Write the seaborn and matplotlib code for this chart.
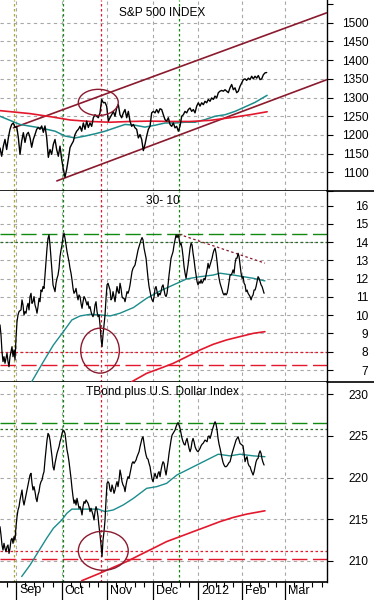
import numpy as np
import pandas as pd
import matplotlib
matplotlib.use("Agg")
import matplotlib.pyplot as plt
import matplotlib.transforms as mtransforms
from matplotlib.patches import Ellipse
from matplotlib.lines import Line2D
import seaborn as sns

sns.set_theme(style="white")
plt.rcParams['font.family'] = ['Liberation Sans', 'DejaVu Sans']

# ---------------- data (x = trading days since 1 Sep 2011) ----------------
month_labels = ["Sep", "Oct", "Nov", "Dec", "2012", "Feb", "Mar"]
month_days = [0, 21, 42, 63, 84, 104, 124]
x_lim = (-7.4, 143.3)

# S&P 500 daily closes (Aug 2011 - Feb 2012)
sp_first_day, sp_last_day = -7.4, 115.5
sp500 = [1165, 1143, 1170, 1188, 1161, 1192, 1215, 1228, 1232, 1220, 1223, 1193, 1148, 1183,
         1206, 1180, 1201, 1207, 1193, 1167, 1188, 1201, 1215, 1220, 1215, 1224, 1207, 1224,
         1193, 1140, 1161, 1148, 1175, 1188, 1161, 1143, 1170, 1135, 1108, 1087, 1108, 1135,
         1166, 1175, 1183, 1201, 1210, 1215, 1223, 1210, 1232, 1215, 1237, 1220, 1232, 1223,
         1246, 1254, 1250, 1246, 1259, 1295, 1286, 1287, 1277, 1237, 1246, 1254, 1263, 1250,
         1272, 1281, 1254, 1246, 1259, 1268, 1246, 1263,
         1237, 1223, 1228, 1219, 1215, 1192, 1201, 1188, 1158, 1175, 1197, 1215, 1223, 1259,
         1263, 1259, 1268, 1259, 1270, 1268, 1254, 1241, 1237, 1246, 1228, 1223, 1232, 1219,
         1223, 1210, 1223, 1250, 1254, 1263, 1259, 1268, 1272, 1263, 1268, 1259, 1277, 1286,
         1277, 1286, 1281, 1290, 1286, 1295, 1290, 1299, 1295, 1304, 1299, 1313, 1317, 1319,
         1317, 1321, 1317, 1313, 1326, 1335, 1321, 1326, 1313, 1317, 1330, 1339, 1348, 1350,
         1346, 1352, 1348, 1357, 1350, 1357, 1352, 1359, 1348, 1350, 1361, 1366, 1367]
sp_ma_short_x = [-7.4, 1.8, 11.1, 18.0, 22.6, 27.2, 31.8, 36.4, 41.0, 45.6, 50.2, 54.8, 59.4,
                 64.1, 68.7, 73.3, 77.9, 82.5, 87.1, 91.7, 96.3, 100.9, 105.5, 110.1, 115.7]
sp_ma_short = [1250, 1228, 1219, 1210, 1197, 1192, 1197, 1203, 1210, 1219, 1228, 1226, 1221,
               1226, 1232, 1232, 1234, 1234, 1241, 1250, 1254, 1263, 1275, 1287, 1306]
sp_ma_long_x = [-7.4, 6.5, 15.7, 24.9, 34.1, 43.3, 52.5, 61.8, 71.0, 80.2, 89.4, 98.6, 107.8, 115.7]
sp_ma_long = [1265, 1257, 1249, 1240, 1236, 1234, 1236, 1237, 1236, 1236, 1239, 1246, 1254, 1262]
sp_channel_upper_x, sp_channel_upper = [-1.2, 143.3], [1219, 1527]
sp_channel_lower_x, sp_channel_lower = [18.8, 143.3], [1077, 1348]

# 30-10 spread
spread_first_day, spread_last_day = -7.4, 114.3
spread = [9.47, 8.92, 8.00, 7.46, 7.73, 7.37, 7.64, 7.92, 7.46, 7.18, 7.73, 8.00, 8.28, 7.73,
          8.10, 7.55, 8.74, 9.65, 10.01, 10.20, 10.25, 10.29, 10.84, 10.56, 10.01, 10.20, 10.11,
          10.47, 10.65, 10.29, 11.02, 11.20, 10.65, 10.74, 11.02, 10.56, 10.38, 10.11, 10.47,
          10.93, 10.74, 11.38, 11.29, 11.57, 11.47, 12.20, 12.93, 13.67, 14.21, 14.40, 13.85,
          13.12, 12.39, 11.66, 11.47, 11.29, 11.75, 12.02, 12.20, 12.57, 13.21, 13.57, 13.85,
          14.30, 14.49, 14.21, 13.85, 13.48, 13.21, 12.93, 12.57, 12.30, 11.93, 11.47, 11.20,
          11.29, 11.47, 11.11, 10.84, 11.11, 11.02, 10.65, 10.38, 10.74, 11.02, 10.93, 10.74,
          10.56, 10.74, 10.38, 10.47, 10.20, 10.01, 9.92, 10.11, 10.56, 10.74, 10.20, 9.92,
          10.01, 9.47, 8.74, 8.28, 8.92, 9.47, 10.01, 10.93, 11.66, 11.75, 11.57, 11.38, 10.84,
          10.93, 11.29, 11.02, 10.74, 11.20, 11.57, 11.29, 11.20, 11.75, 11.47, 11.02, 10.93,
          10.93, 10.74, 11.02, 11.29, 11.20, 11.38, 11.66, 12.02, 12.39, 12.57, 12.66,
          12.75, 13.03, 13.30, 13.57, 13.76, 13.94, 14.12, 14.25, 14.12, 13.67, 13.39, 13.12,
          12.57, 12.02, 11.57, 11.29, 11.02, 10.84, 10.74, 11.02, 11.47, 11.57, 11.29, 11.02,
          11.20, 11.11, 11.29, 11.57, 11.66, 11.38, 11.11, 11.02, 11.20, 11.66, 12.20, 12.66,
          13.12, 13.30, 13.48, 13.85, 14.12, 14.40, 14.25, 14.40, 14.21, 13.85, 13.94, 13.67,
          13.21, 12.66, 12.30, 12.02, 12.39, 12.75, 13.21, 13.67, 13.94, 13.85, 13.39, 13.03,
          12.57, 12.20, 11.84, 11.66, 11.84, 11.75, 11.93, 11.75, 11.84, 12.02, 11.93, 12.20,
          12.48, 12.84, 12.57, 12.75, 12.93, 13.12, 13.39, 13.57, 13.67, 13.39, 12.93, 12.39,
          12.02, 11.75, 11.57, 11.38, 11.20, 11.11, 11.20, 11.11, 11.20, 11.47, 11.84, 12.20,
          12.20, 12.30, 12.48, 12.30, 12.84, 13.12, 13.12, 13.39, 13.21, 12.75, 12.30, 12.02,
          12.11, 11.75, 11.66, 11.29, 11.38, 11.20, 11.11, 11.02, 10.84, 11.02, 11.11, 11.38,
          11.38, 11.57, 11.84, 12.11, 12.02, 11.84, 11.66, 11.57, 11.38, 11.20]
spread_ma_short_x = [7.2, 12.6, 17.2, 21.8, 25.7, 29.5, 34.1, 38.7, 43.3, 47.9, 54.1, 60.2,
                     66.4, 72.5, 78.7, 84.8, 90.9, 94.0, 100.1, 104.7, 109.4, 114.7]
spread_ma_short = [6.36, 7.46, 8.37, 9.10, 9.74, 9.96, 10.05, 10.02, 9.96, 10.11, 10.42, 10.93,
                   11.33, 11.66, 11.99, 12.11, 12.20, 12.30, 12.20, 12.11, 12.02, 11.88]
spread_ma_long_x = [53.3, 60.2, 66.4, 72.5, 78.7, 84.8, 90.9, 97.1, 103.2, 109.4, 114.7]
spread_ma_long = [6.36, 6.82, 7.09, 7.37, 7.73, 8.10, 8.41, 8.65, 8.83, 9.01, 9.10]
spread_trend_x, spread_trend = [75.1, 114.7], [14.43, 12.85]
spread_levels = {"high": 14.43, "high2": 14.03, "low2": 8.0, "low": 7.26}

# TBond plus U.S. Dollar Index
tbd_first_day, tbd_last_day = -7.4, 114.3
tbd = [214.09, 213.09, 211.89, 211.28, 212.09, 211.49, 211.09, 211.69, 211.89, 210.88, 211.49,
       212.49, 212.69, 212.09, 212.89, 212.49, 214.09, 215.29, 216.09, 216.49, 217.29, 217.9,
       218.5, 217.29, 216.69, 217.29, 217.9, 218.5, 219.1, 219.7, 220.3, 220.5, 219.3, 218.5,
       218.9, 218.3, 217.5, 217.1, 217.9, 218.3, 219.1, 219.5, 219.7, 220.3, 220.7, 222.1,
       223.3, 224.5, 225.3, 225.1, 224.5, 223.5, 222.5, 221.3, 220.9, 221.7, 222.3, 222.9,
       223.3, 223.7, 224.3, 224.7, 225.3, 225.7, 225.6, 225.3, 224.3, 223.3, 222.7, 221.9,
       220.9, 219.9, 218.7, 217.7, 216.9, 217.3, 216.7, 217.5, 216.9, 216.3, 216.5, 216.1,
       215.5, 216.5, 217.1, 216.9, 217.3, 217.1, 216.9, 216.5, 215.9, 216.3, 215.9, 215.5,
       214.9, 215.9, 216.5, 216.1, 215.3, 214.1, 213.1, 211.9, 210.5, 212.5, 213.5, 214.9,
       217.3, 219.3, 219.5, 219.3, 218.5, 218.3, 219.1, 218.7, 218.1, 218.5, 219.1, 219.5,
       218.9, 219.7, 220.9, 220.3, 219.5, 219.1, 218.9, 218.3, 219.1, 219.7, 220.1, 219.9,
       220.5, 221.1, 221.7, 221.9, 221.7,
       221.9, 222.1, 222.5, 222.8, 223.1, 223.7, 224.2, 224.7, 224.9, 224.1, 223.3, 222.7,
       222.3, 222.2, 221.7, 221.3, 220.5, 219.8, 219.5, 220.1, 220.5, 220.1, 219.9, 220.5,
       220.7, 220.1, 220.9, 221.5, 221.9, 221.7, 220.9, 220.3, 221.1, 221.9, 222.9, 223.7,
       224.5, 225.1, 225.3, 225.5, 225.7, 226.1, 226.4, 226.6, 226.3, 225.9, 225.3, 224.7,
       224.3, 224.0, 223.9, 224.4, 224.7, 224.1, 223.5, 223.1, 223.5, 224.3, 224.7, 224.3,
       223.7, 223.4, 223.2, 223.1, 223.3, 223.5, 223.8, 224.0, 224.1, 224.3, 224.5, 224.4,
       224.3, 224.9, 225.0, 224.7, 225.1, 225.6, 226.0, 226.4, 226.7, 226.4, 225.7, 224.7,
       224.0, 223.5, 222.9, 222.3, 221.8, 221.5, 221.3, 221.3, 221.4, 221.6, 221.8, 221.9,
       222.4, 222.9, 223.3, 223.7, 224.1, 224.5, 224.7, 224.9, 224.5, 224.1, 224.0, 223.9,
       223.8, 222.9, 221.9, 222.3, 222.5, 221.7, 221.4, 221.3, 220.9, 220.6, 220.3, 220.7,
       221.3, 221.9, 222.2, 222.3, 222.9, 223.2, 222.9, 222.2, 221.8, 221.5]
tbd_ma_short_x = [2.6, 6.5, 10.3, 14.1, 17.2, 21.1, 23.4, 25.7, 29.5, 34.1, 37.9, 41.0, 44.8,
                  49.4, 54.1, 60.2, 64.8, 69.4, 74.1, 78.7, 84.8, 90.9, 93.2, 98.6, 103.2,
                  109.4, 114.7]
tbd_ma_short = [208.1, 209.5, 211.1, 212.7, 213.9, 214.9, 215.7, 216.2, 216.2, 216.2, 216.2,
                215.9, 216.1, 216.7, 217.5, 218.7, 218.9, 219.3, 220.3, 220.9, 221.7, 222.5,
                222.8, 222.6, 222.8, 222.6, 222.5]
tbd_ma_long_x = [30.3, 38.7, 44.8, 51.0, 57.1, 63.3, 69.4, 75.6, 81.7, 87.9, 94.0, 100.1, 106.3, 114.7]
tbd_ma_long = [207.6, 208.5, 209.2, 209.9, 210.7, 211.5, 212.3, 212.9, 213.5, 214.1, 214.7,
               215.2, 215.6, 216.0]
tbd_levels = {"high": 226.6, "high2": 225.8, "low2": 211.2, "low": 210.2}

# marker lines / circles
vline_olive = -0.9
vline_green = [21.7, 75.1]
vline_red = 39.2
circle_sp = (37.9, 1287, 18.4, 70)
circle_spread = (38.7, 8.06, 17.8, 2.46)
circle_tbd = (40.2, 211.2, 23.0, 4.7)

# ---------------- styling ----------------
BLACK = "#000000"
TEAL = "#1c8c8c"
RED = "#e3182d"
MAROON = "#8a1a2e"
GREEN = "#128a12"
DGREEN = "#2a6a2a"
GRID = "#a8a8a8"
OLIVE = "#a9a93a"

fig = plt.figure(figsize=(3.74, 6.0), dpi=100)
W = 327 / 374
ax1 = fig.add_axes([0, (600 - 191) / 600, W, 191 / 600])
ax2 = fig.add_axes([0, (600 - 382) / 600, W, 191 / 600])
ax3 = fig.add_axes([0, (600 - 582) / 600, W, 200 / 600])
axes = [ax1, ax2, ax3]

FS = 8.6

def base(ax, ylim, gridvals, ticks, labels):
    ax.set_xlim(*x_lim)
    ax.set_ylim(*ylim)
    ax.set_facecolor("white")
    for v in gridvals:
        ax.axhline(v, color=GRID, lw=0.8, dashes=(3, 3), zorder=0)
    for d in month_days:
        ax.axvline(d, color=GRID, lw=0.8, dashes=(3, 3), zorder=0)
    ax.axvline(vline_olive, color=OLIVE, lw=0.9, dashes=(2, 2), zorder=1)
    for d in vline_green:
        ax.axvline(d, color=GREEN, lw=0.9, dashes=(2, 2), zorder=1)
    ax.axvline(vline_red, color=RED, lw=0.9, dashes=(2, 2), zorder=1)
    ax.yaxis.tick_right()
    ax.set_yticks(ticks, labels=labels, ha="right", fontsize=FS)
    ax.tick_params(axis="y", direction="out", length=4.3, width=0.8, pad=25.5,
                   colors=BLACK, right=True, left=False)
    ax.tick_params(axis="x", bottom=False, top=False, labelbottom=False)
    for s in ["left", "top"]:
        ax.spines[s].set_visible(False)
    ax.spines["right"].set_color(BLACK)
    ax.spines["right"].set_linewidth(1.0)
    ax.spines["bottom"].set_color(BLACK)
    ax.spines["bottom"].set_linewidth(1.2)
    ax.set_xlabel("")
    ax.set_ylabel("")

# ---- Panel 1: S&P 500 ----
sp_df = pd.DataFrame({"day": np.linspace(sp_first_day, sp_last_day, len(sp500)), "val": sp500})
base(ax1, (1052, 1561), list(range(1100, 1501, 50)), list(range(1050, 1551, 50)),
     [""] + [str(v) for v in range(1100, 1501, 50)] + [""])
sns.lineplot(data=sp_df, x="day", y="val", ax=ax1, color=BLACK, lw=1.0, estimator=None,
             sort=False, zorder=5)
sns.lineplot(x=sp_ma_short_x, y=sp_ma_short, ax=ax1, color=TEAL, lw=1.1, estimator=None, zorder=4)
sns.lineplot(x=sp_ma_long_x, y=sp_ma_long, ax=ax1, color=RED, lw=1.2, estimator=None, zorder=4)
ax1.plot(sp_channel_upper_x, sp_channel_upper, color=MAROON, lw=1.2, zorder=3)
ax1.plot(sp_channel_lower_x, sp_channel_lower, color=MAROON, lw=1.2, zorder=3)
cx, cy, w, h = circle_sp
ax1.add_patch(Ellipse((cx, cy), w, h, fill=False, edgecolor=MAROON, lw=1.0, zorder=6))
ax1.text(0.497, 0.93, "S&P 500 INDEX", transform=ax1.transAxes, ha="center", va="center",
         fontsize=FS, color=BLACK)
ax1.set_xlabel(""); ax1.set_ylabel("")

# ---- Panel 2: 30-10 ----
sd_df = pd.DataFrame({"day": np.linspace(spread_first_day, spread_last_day, len(spread)), "val": spread})
base(ax2, (6.345, 16.80), list(range(7, 17)), list(range(7, 17)), [str(v) for v in range(7, 17)])
ax2.axhline(spread_levels["high"], color=GREEN, lw=1.0, dashes=(11, 4), zorder=2)
ax2.axhline(spread_levels["high2"], color=DGREEN, lw=0.9, dashes=(2, 2), zorder=2)
ax2.axhline(spread_levels["low2"], color=RED, lw=0.9, dashes=(2, 2), zorder=2)
ax2.axhline(spread_levels["low"], color=RED, lw=1.0, dashes=(11, 4), zorder=2)
sns.lineplot(data=sd_df, x="day", y="val", ax=ax2, color=BLACK, lw=0.9, estimator=None,
             sort=False, zorder=5)
sns.lineplot(x=spread_ma_short_x, y=spread_ma_short, ax=ax2, color=TEAL, lw=1.0, estimator=None, zorder=4)
sns.lineplot(x=spread_ma_long_x, y=spread_ma_long, ax=ax2, color=RED, lw=1.2, estimator=None, zorder=4)
ax2.plot(spread_trend_x, spread_trend, color=MAROON, lw=0.9, dashes=(2, 2), zorder=3)
cx, cy, w, h = circle_spread
ax2.add_patch(Ellipse((cx, cy), w, h, fill=False, edgecolor=MAROON, lw=1.0, zorder=6))
ax2.text(0.497, 0.948, "30- 10", transform=ax2.transAxes, ha="center", va="center",
         fontsize=FS, color=BLACK)
ax2.set_xlabel(""); ax2.set_ylabel("")

# ---- Panel 3: TBond plus USD ----
tb_df = pd.DataFrame({"day": np.linspace(tbd_first_day, tbd_last_day, len(tbd)), "val": tbd})
base(ax3, (207.44, 231.48), list(range(210, 231, 5)), list(range(210, 231, 5)),
     [str(v) for v in range(210, 231, 5)])
ax3.axhline(tbd_levels["high"], color=GREEN, lw=1.0, dashes=(11, 4), zorder=2)
ax3.axhline(tbd_levels["high2"], color=DGREEN, lw=0.9, dashes=(2, 2), zorder=2)
ax3.axhline(tbd_levels["low2"], color=RED, lw=0.9, dashes=(2, 2), zorder=2)
ax3.axhline(tbd_levels["low"], color=RED, lw=1.0, dashes=(11, 4), zorder=2)
sns.lineplot(data=tb_df, x="day", y="val", ax=ax3, color=BLACK, lw=0.9, estimator=None,
             sort=False, zorder=5)
sns.lineplot(x=tbd_ma_short_x, y=tbd_ma_short, ax=ax3, color=TEAL, lw=1.0, estimator=None, zorder=4)
sns.lineplot(x=tbd_ma_long_x, y=tbd_ma_long, ax=ax3, color=RED, lw=1.2, estimator=None, zorder=4)
cx, cy, w, h = circle_tbd
ax3.add_patch(Ellipse((cx, cy), w, h, fill=False, edgecolor=MAROON, lw=1.0, zorder=6))
ax3.text(0.497, 0.95, "TBond plus U.S. Dollar Index", transform=ax3.transAxes, ha="center",
         va="center", fontsize=FS, color=BLACK)
ax3.set_xlabel(""); ax3.set_ylabel("")

# x axis on the bottom panel
ax3.tick_params(axis="x", bottom=True, labelbottom=False, which="both", direction="out")
ax3.set_xticks(month_days)
ax3.tick_params(axis="x", which="major", length=13, width=0.9, color=BLACK)
minor = []
edges = [-21] + month_days + [145]
for a, b in zip(edges[:-1], edges[1:]):
    for t in np.linspace(a, b, 6)[1:-1]:
        if x_lim[0] < t < x_lim[1]:
            minor.append(t)
ax3.set_xticks(minor, minor=True)
ax3.tick_params(axis="x", which="minor", length=3.6, width=0.8, color=BLACK)
lab_tr = mtransforms.offset_copy(ax3.get_xaxis_transform(), fig=fig, x=3, y=-2.5, units="dots")
for d, lab in zip(month_days, month_labels):
    ax3.text(d, 0, lab, transform=lab_tr, ha="left", va="top", fontsize=FS + 0.4, color=BLACK)

# separators extend to the right edge
for yf in [(600 - 191) / 600, (600 - 382) / 600]:
    fig.add_artist(Line2D([W, 1.0], [yf, yf], color=BLACK, lw=1.2, transform=fig.transFigure))

fig.savefig("out.png", dpi=100, facecolor="white")
